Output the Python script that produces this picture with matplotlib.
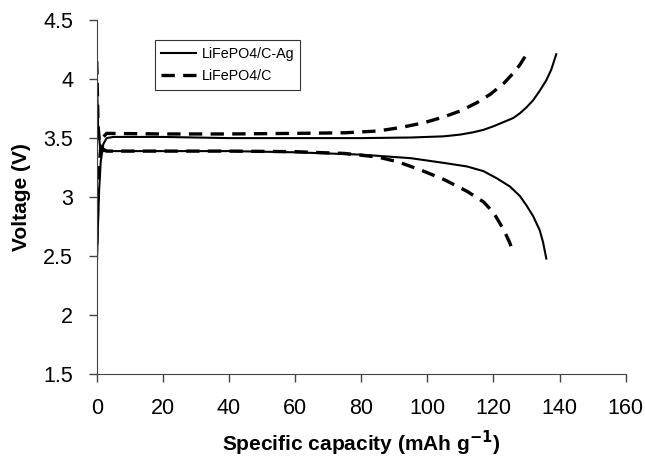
import matplotlib
matplotlib.use("Agg")
import matplotlib.pyplot as plt
import numpy as np

plt.rcParams['font.family'] = ['Liberation Sans', 'DejaVu Sans']

# LiFePO4/C-Ag
ag_charge_cap = [0, 0.3, 0.7, 1.2, 2, 3, 5, 20, 40, 60, 80, 95, 105, 110, 114, 117, 120, 123, 126, 128,
                 130, 132, 134, 136, 137.5, 139]
ag_charge_v = [2.37, 2.7, 3.05, 3.3, 3.45, 3.5, 3.51, 3.51, 3.5, 3.5, 3.5, 3.505, 3.515, 3.53, 3.55, 3.57,
               3.6, 3.635, 3.67, 3.71, 3.76, 3.82, 3.9, 3.99, 4.08, 4.21]
ag_dis_cap = [0, 0.4, 1, 2, 5, 40, 60, 80, 95, 105, 112, 117, 121, 125, 128, 130, 132, 134, 135, 136]
ag_dis_v = [4.1, 3.6, 3.42, 3.39, 3.39, 3.39, 3.38, 3.36, 3.33, 3.29, 3.26, 3.22, 3.16, 3.09, 3.01, 2.93,
            2.84, 2.72, 2.62, 2.48]

# LiFePO4/C
c_charge_cap = [0, 0.3, 0.7, 1.2, 2, 3, 20, 40, 60, 75, 85, 92, 99, 105, 110, 115, 119, 123, 126, 128, 130]
c_charge_v = [2.6, 2.95, 3.25, 3.42, 3.51, 3.54, 3.535, 3.535, 3.54, 3.545, 3.56, 3.59, 3.63, 3.68, 3.73,
              3.8, 3.87, 3.96, 4.05, 4.12, 4.21]
c_dis_cap = [0, 0.4, 1, 3, 40, 60, 75, 85, 91, 98, 105, 112, 117, 120, 123, 125, 126]
c_dis_v = [4.15, 3.6, 3.42, 3.39, 3.39, 3.385, 3.37, 3.34, 3.3, 3.23, 3.15, 3.05, 2.96, 2.87, 2.73, 2.61, 2.52]

fig = plt.figure(figsize=(6.45, 4.65), dpi=100)
ax = fig.add_axes([0.150, 0.195, 0.820, 0.762])

ax.plot(ag_charge_cap, ag_charge_v, color='black', lw=1.5, label='LiFePO4/C-Ag')
ax.plot(ag_dis_cap, ag_dis_v, color='black', lw=1.5)
ax.plot(c_charge_cap, c_charge_v, color='black', lw=2.4, ls=(0, (4, 2.5)), label='LiFePO4/C')
ax.plot(c_dis_cap, c_dis_v, color='black', lw=2.4, ls=(0, (4, 2.5)))

ax.set_xlim(0, 160)
ax.set_ylim(1.5, 4.5)
ax.set_xticks(np.arange(0, 161, 20))
ax.set_yticks(np.arange(1.5, 4.51, 0.5))
ax.set_yticklabels(['1.5', '2', '2.5', '3', '3.5', '4', '4.5'])
ax.spines['top'].set_visible(False)
ax.spines['right'].set_visible(False)
ax.spines['left'].set_color('#444444')
ax.spines['bottom'].set_color('#444444')
ax.tick_params(direction='out', length=6, width=1, color='#444444', labelsize=15.5)
ax.tick_params(axis='x', pad=11)
ax.tick_params(axis='y', pad=11)

ax.set_xlabel('Specific capacity (mAh g$^{\\mathbf{-1}}$)', fontsize=15, fontweight='bold', labelpad=7)
ax.set_ylabel('Voltage (V)', fontsize=15, fontweight='bold', labelpad=9)

leg = ax.legend(loc='upper left', bbox_to_anchor=(0.110, 0.943), fontsize=10.3,
                frameon=True, fancybox=False, edgecolor='black', handlelength=2.4,
                handletextpad=0.4, borderpad=0.45, labelspacing=0.6, borderaxespad=0)
leg.get_frame().set_linewidth(0.8)

fig.savefig('out.png', dpi=100)
